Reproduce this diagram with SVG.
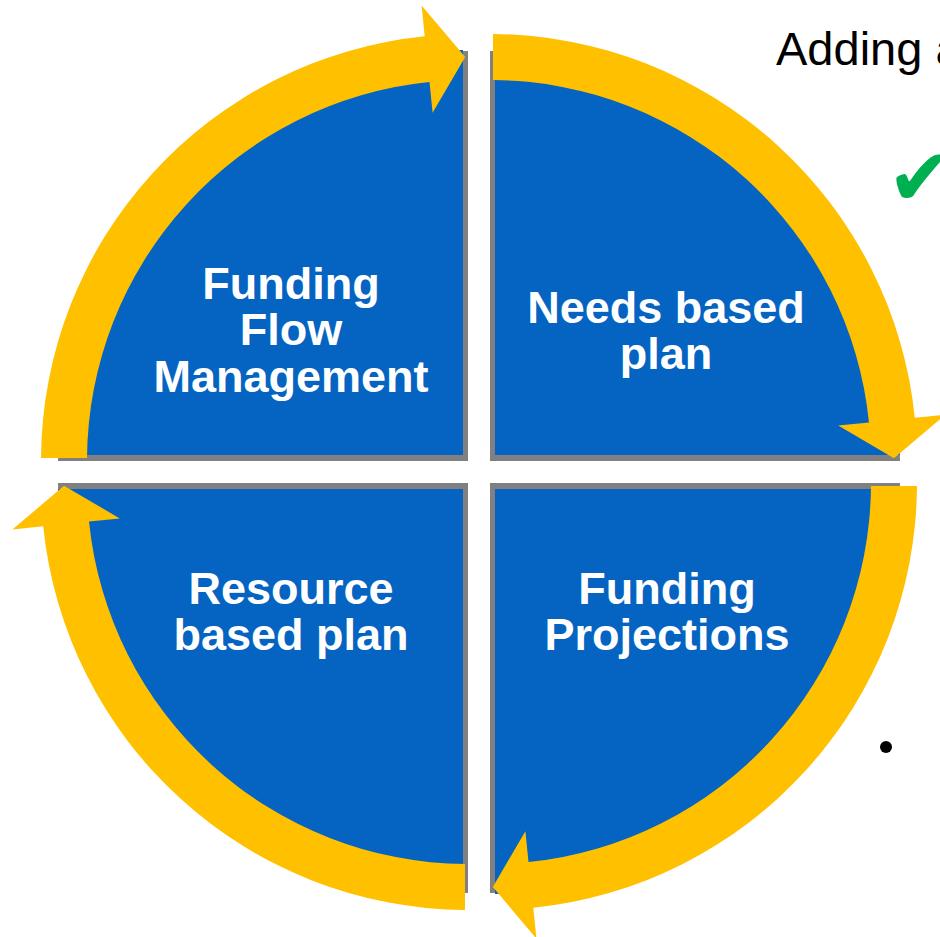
<svg xmlns="http://www.w3.org/2000/svg" width="940" height="937" viewBox="0 0 940 937">
<style>
.gray{fill:#808080}
.blue{fill:#0564C1}
.arrow{fill:#FFC000}
.lbl{font-family:"Liberation Sans",Arial,sans-serif;font-weight:bold;font-size:45px;fill:#FFFFFF;text-anchor:middle}
.body{font-family:"Liberation Sans",Arial,sans-serif;font-size:47px;fill:#000000}
</style>
<defs>
<path id="arc" class="arrow" d="M -427,-3 A427,427 0 0 1 -43.3,-424.8 L -46.4,-455.6 L -2.8,-404 L -35.4,-348.2 L -38.5,-379 A381,381 0 0 0 -381,-3 Z"/>
</defs>
<rect width="940" height="937" fill="#FFFFFF"/>
<g id="node-funding-flow">
<path class="gray" d="M468,461 L58,461 A410,410 0 0 1 468,51 Z"/>
<path class="blue" d="M463,455 L58,455 A405,405 0 0 1 463,50 Z"/>
</g>
<g id="node-needs-based">
<path class="gray" d="M490,461 L490,51 A410,410 0 0 1 900,461 Z"/>
<path class="blue" d="M495,455 L495,50 A405,405 0 0 1 900,455 Z"/>
</g>
<g id="node-funding-projections">
<path class="gray" d="M490,483 L900,483 A410,410 0 0 1 490,893 Z"/>
<path class="blue" d="M495,489 L900,489 A405,405 0 0 1 495,894 Z"/>
</g>
<g id="node-resource-based">
<path class="gray" d="M468,483 L468,893 A410,410 0 0 1 58,483 Z"/>
<path class="blue" d="M463,489 L463,894 A405,405 0 0 1 58,489 Z"/>
</g>
<g id="connectors">
<use href="#arc" transform="translate(468,461)"/>
<use href="#arc" transform="translate(490,461) rotate(90)"/>
<use href="#arc" transform="translate(490,483) rotate(180)"/>
<use href="#arc" transform="translate(468,483) rotate(270)"/>
</g>
<g id="labels">
<text class="lbl" x="291" y="299">Funding</text>
<text class="lbl" x="291" y="345">Flow</text>
<text class="lbl" x="291" y="392">Management</text>
<text class="lbl" x="666" y="323">Needs based</text>
<text class="lbl" x="666" y="369">plan</text>
<text class="lbl" x="291" y="604">Resource</text>
<text class="lbl" x="291" y="650">based plan</text>
<text class="lbl" x="667" y="604">Funding</text>
<text class="lbl" x="667" y="650">Projections</text>
</g>
<g id="side-text">
<text class="body" x="776" y="65">Adding a</text>
<text x="887" y="205" font-family="DejaVu Sans, sans-serif" font-size="80" fill="#00B050">✔</text>
<circle cx="886" cy="747" r="6" fill="#000000"/>
</g>
</svg>
